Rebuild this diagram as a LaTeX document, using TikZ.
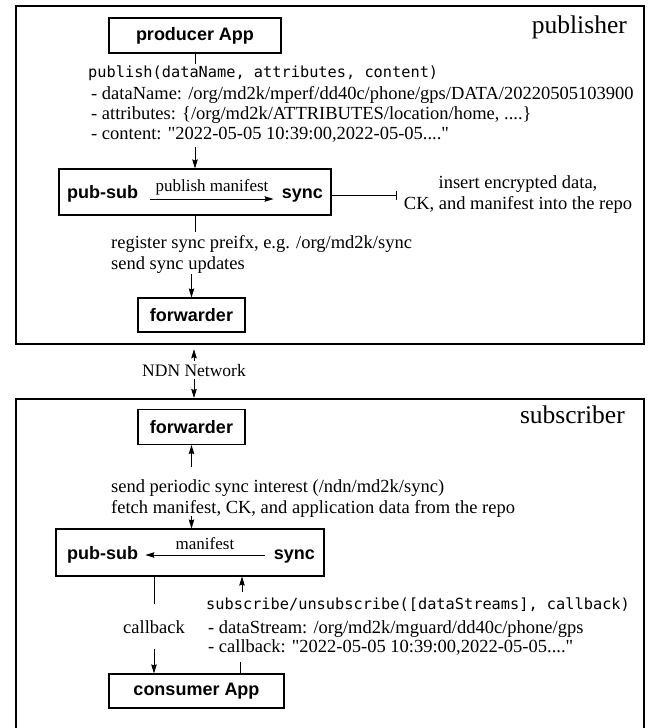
\documentclass[tikz,border=0pt]{standalone}
\usepackage{fontspec}
\setmainfont{Liberation Serif}
\newfontfamily\pserif{Liberation Serif}
\setsansfont{Liberation Sans}
\setmonofont{DejaVu Sans Mono}
\usetikzlibrary{arrows.meta}
\begin{document}
\begin{tikzpicture}[x=1pt,y=-1pt,
  box/.style={draw, line width=1.1pt, inner sep=0pt, font=\fontsize{18}{20}\sffamily\bfseries},
  frame/.style={draw, line width=2.2pt, inner sep=0pt, anchor=north west},
  txt/.style={inner sep=0pt, font=\fontsize{18.5}{21}\pserif},
  code/.style={inner sep=0pt, font=\fontsize{15.3}{18}\ttfamily},
  lbl/.style={inner sep=0pt, font=\fontsize{17}{20}\pserif},
  big/.style={inner sep=0pt, font=\fontsize{25.5}{28}\pserif},
  bl/.style={inner sep=0pt, font=\fontsize{18}{20}\sffamily\bfseries},
  conn/.style={line width=0.8pt},
  arr/.style={conn, -{Stealth[length=9pt,width=5.5pt,inset=1pt]}},
]
\clip (0,0) rectangle (649,728);
\fill[white] (0,0) rectangle (649,728);
% frames
\node[frame, minimum width=628pt, minimum height=338pt] (pubframe) at (15,5) {};
\node[frame, minimum width=628pt, minimum height=362pt] (subframe) at (15,398) {};
% ---------------- publisher ----------------
\node[big, anchor=base east] (pubL) at (627,33) {publisher};
\node[box, minimum width=172pt, minimum height=35pt] (prod) at (195,35.5) {producer App};
\node[code, anchor=base west] (pubcall) at (88,77) {publish(dataName, attributes, content)};
\node[txt, anchor=base west] (dn) at (91,99) {- dataName: /org/md2k/mperf/dd40c/phone/gps/DATA/20220505103900};
\node[txt, anchor=base west] (attr) at (91,119) {- attributes: \{/org/md2k/ATTRIBUTES/location/home, ....\}};
\node[txt, anchor=base west] (cont) at (91,139) {- content: "2022-05-05 10:39:00,2022-05-05...."};
\coordinate (p1) at (195,64);
\coordinate (p2) at (195,147);
\draw[conn] (prod.south) -- (p1);
\node[box, minimum width=272pt, minimum height=46pt] (ps1box) at (195,192) {};
\node[bl, anchor=base west] (ps1) at (67,198) {pub-sub};
\node[bl, anchor=base east] (sy1) at (323,198) {sync};
\draw[arr] (p2) -- (ps1box.north -| p2);
\draw[arr] ([xshift=12pt,yshift=-1pt]ps1.base east) -- node[lbl, anchor=base, yshift=8pt] {publish manifest} ([xshift=-8pt,yshift=-1pt]sy1.base west);
\node[txt, align=center] (ins) at (518,195) {insert encrypted data,\\CK, and manifest into the repo};
\draw[conn, -{Bar[width=9pt]}] (ins.west -| ps1box.east) -- ([xshift=-7pt]ins.west);
\coordinate (p3) at (195,232);
\draw[conn] (ps1box.south -| p3) -- (p3);
\node[txt, anchor=base west] (reg1) at (111,248) {register sync preifx, e.g. /org/md2k/sync};
\node[txt, anchor=base west] (reg2) at (111,269) {send sync updates};
\node[box, minimum width=107pt, minimum height=34pt] (fwd1) at (191.5,315) {forwarder};
\coordinate (p4) at (191.5,274);
\draw[arr] (p4) -- (fwd1.north);
% ---------------- network ----------------
\node[lbl, anchor=base, inner ysep=3pt, font=\fontsize{17.5}{20}\pserif] (ndn) at (194,376) {NDN Network};
\draw[arr] (ndn.north) -- ([yshift=-4pt]ndn.north |- pubframe.south);
\draw[arr] (ndn.south) -- (ndn.south |- subframe.north);
% ---------------- subscriber ----------------
\node[big, anchor=base east] (subL) at (625,423) {subscriber};
\node[box, minimum width=107pt, minimum height=35pt] (fwd2) at (191.5,427) {forwarder};
\node[txt, anchor=base west] (sp1) at (111,492) {send periodic sync interest (/ndn/md2k/sync)};
\node[txt, anchor=base west] (sp2) at (111,513) {fetch manifest, CK, and application data from the repo};
\coordinate (s1) at (191.5,467);
\coordinate (s2) at (191.5,516);
\draw[arr] (s1) -- (fwd2.south);
\node[box, minimum width=268pt, minimum height=47pt] (ps2box) at (190,552.5) {};
\node[bl, anchor=base west] (ps2) at (67,559) {pub-sub};
\node[bl, anchor=base east] (sy2) at (315,559) {sync};
\draw[arr] (s2) -- (ps2box.north -| s2);
\draw[arr] ([xshift=-9pt,yshift=4pt]sy2.base west) -- node[lbl, anchor=base, yshift=6pt] {manifest} ([xshift=7pt,yshift=4pt]ps2.base east);
\node[code, anchor=base west] (subcall) at (206,609) {subscribe/unsubscribe([dataStreams], callback)};
\node[txt, anchor=base west] (ds) at (208,633) {- dataStream: /org/md2k/mguard/dd40c/phone/gps};
\node[txt, anchor=base west] (cbk) at (208,652) {- callback: "2022-05-05 10:39:00,2022-05-05...."};
\coordinate (s3) at (242,592);
\draw[arr] (s3) -- (ps2box.south -| s3);
\node[txt, anchor=base, inner ysep=16pt] (cb) at (154,633) {callback};
\node[box, minimum width=175pt, minimum height=34pt] (cons) at (196.5,691) {consumer App};
\draw[conn] (ps2box.south -| cb) -- (cb.north);
\draw[arr] (cb.south) -- (cons.north -| cb);
\coordinate (s4) at (240,662);
\draw[conn] (cons.north -| s4) -- (s4);
\end{tikzpicture}
\end{document}
